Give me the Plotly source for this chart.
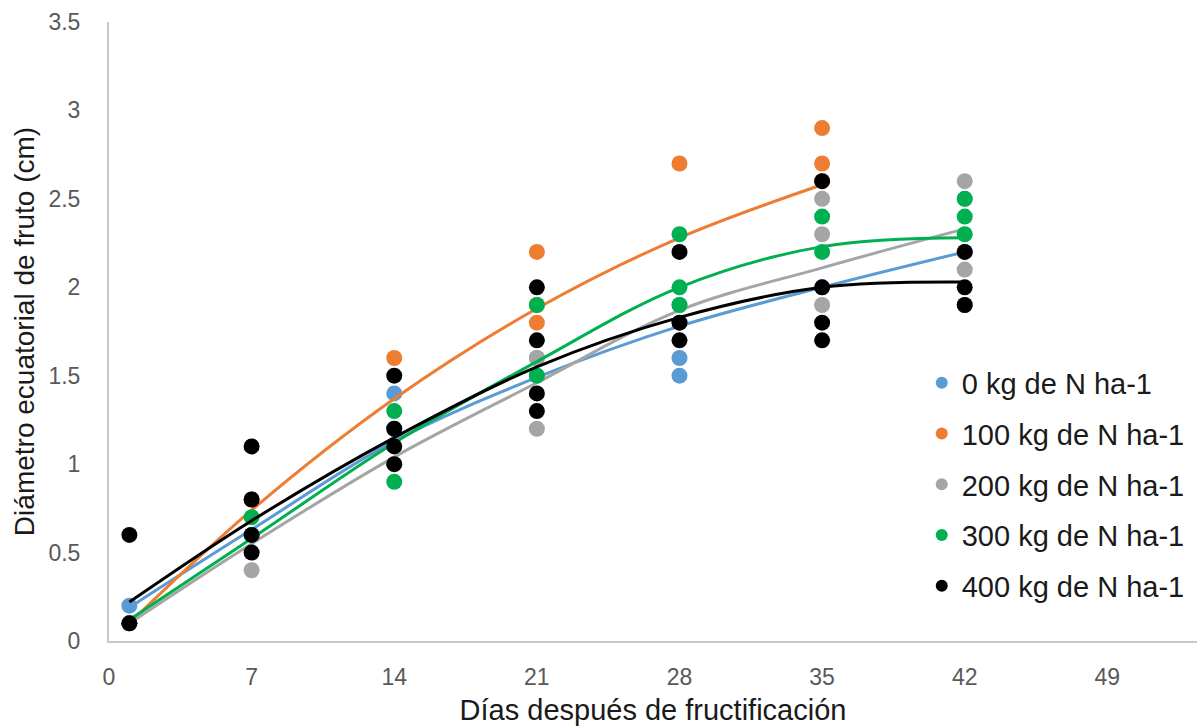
import plotly.graph_objects as go

# ---- data ----
days = [1, 7, 14, 21, 28, 35, 42]
series_names = ["0 kg de N ha-1", "100 kg de N ha-1", "200 kg de N ha-1",
                "300 kg de N ha-1", "400 kg de N ha-1"]
colors = ["#5B9BD5", "#ED7D31", "#A5A5A5", "#00B050", "#000000"]

# observed points (x, y) per series
n0_x = [1, 7, 14, 14, 21, 21, 28, 28, 28, 35, 42, 42]
n0_y = [0.2, 0.6, 1.4, 1.2, 1.5, 1.6, 1.6, 1.5, 1.8, 2.0, 2.2, 1.9]

n100_x = [1, 7, 14, 21, 21, 21, 28, 35, 35, 35]
n100_y = [0.1, 0.8, 1.6, 2.2, 1.8, 1.9, 2.7, 2.9, 2.7, 2.6]

n200_x = [1, 7, 14, 21, 21, 28, 35, 35, 35, 42, 42, 42]
n200_y = [0.1, 0.4, 1.0, 1.6, 1.2, 1.9, 2.5, 2.3, 1.9, 2.6, 2.1, 2.5]

n300_x = [1, 7, 14, 14, 21, 21, 28, 28, 28, 35, 35, 42, 42, 42]
n300_y = [0.1, 0.7, 1.3, 0.9, 1.9, 1.5, 2.3, 2.0, 1.9, 2.4, 2.2, 2.5, 2.4, 2.3]

n400_x = [1, 1, 7, 7, 7, 7, 14, 14, 14, 14, 21, 21, 21, 21, 28, 28, 28,
          35, 35, 35, 35, 42, 42, 42]
n400_y = [0.6, 0.1, 1.1, 0.8, 0.6, 0.5, 1.5, 1.2, 1.1, 1.0, 2.0, 1.7, 1.4, 1.3,
          2.2, 1.8, 1.7, 2.6, 2.0, 1.8, 1.7, 2.2, 2.0, 1.9]

# polynomial trend lines, values read at the sampling days
trend_days_n100 = [1, 7, 14, 21, 28, 35]
trend_n0 = [0.19, 0.63, 1.13, 1.49, 1.78, 2.00, 2.20]
trend_n100 = [0.10, 0.74, 1.37, 1.88, 2.28, 2.58]
trend_n200 = [0.10, 0.55, 1.04, 1.46, 1.87, 2.11, 2.33]
trend_n300 = [0.12, 0.58, 1.12, 1.58, 2.00, 2.23, 2.28]
trend_n400 = [0.22, 0.68, 1.15, 1.55, 1.83, 2.00, 2.03]

x_ticks = [0, 7, 14, 21, 28, 35, 42, 49]
y_ticks = [0, 0.5, 1, 1.5, 2, 2.5, 3, 3.5]

points = [(n0_x, n0_y), (n100_x, n100_y), (n200_x, n200_y),
          (n300_x, n300_y), (n400_x, n400_y)]
trends = [(days, trend_n0), (trend_days_n100, trend_n100), (days, trend_n200),
          (days, trend_n300), (days, trend_n400)]

fig = go.Figure()
for i, name in enumerate(series_names):
    tx, ty = trends[i]
    fig.add_trace(go.Scatter(
        x=tx, y=ty, mode="lines", line=dict(color=colors[i], width=3, shape="spline"),
        showlegend=False, legendgroup=name, hoverinfo="skip"))
    px, py = points[i]
    fig.add_trace(go.Scatter(
        x=px, y=py, mode="markers", name=name, legendgroup=name,
        marker=dict(color=colors[i], size=16, line=dict(width=0))))

font_family = "Liberation Sans, Arial, sans-serif"
fig.update_layout(
    width=1197, height=727,
    margin=dict(l=109, r=0, t=22, b=86),
    paper_bgcolor="white", plot_bgcolor="white",
    font=dict(family=font_family, color="#595959"),
    legend=dict(
        x=0.747, xanchor="left", y=0.458, yanchor="top",
        font=dict(size=29, color="#1a1a1a", family=font_family),
        bgcolor="rgba(0,0,0,0)", tracegroupgap=10, itemsizing="constant",
    ),
    xaxis=dict(
        range=[0, 53.4], tickvals=x_ticks, showgrid=False, zeroline=False,
        showline=True, linecolor="#C8C8C8", linewidth=2,
        ticks="outside", ticklen=14, tickcolor="rgba(0,0,0,0)",
        tickfont=dict(size=23, color="#595959"),
        title=dict(text="Días después de fructificación",
                   font=dict(size=29, color="#1a1a1a"), standoff=11),
    ),
    yaxis=dict(
        range=[0, 3.5], tickvals=y_ticks, showgrid=False, zeroline=False,
        showline=True, linecolor="#C8C8C8", linewidth=2,
        ticks="outside", ticklen=22, tickcolor="rgba(0,0,0,0)",
        tickfont=dict(size=23, color="#595959"),
        title=dict(text="Diámetro ecuatorial de fruto (cm)",
                   font=dict(size=28, color="#1a1a1a"), standoff=6),
    ),
)

fig.write_html("out.html")
